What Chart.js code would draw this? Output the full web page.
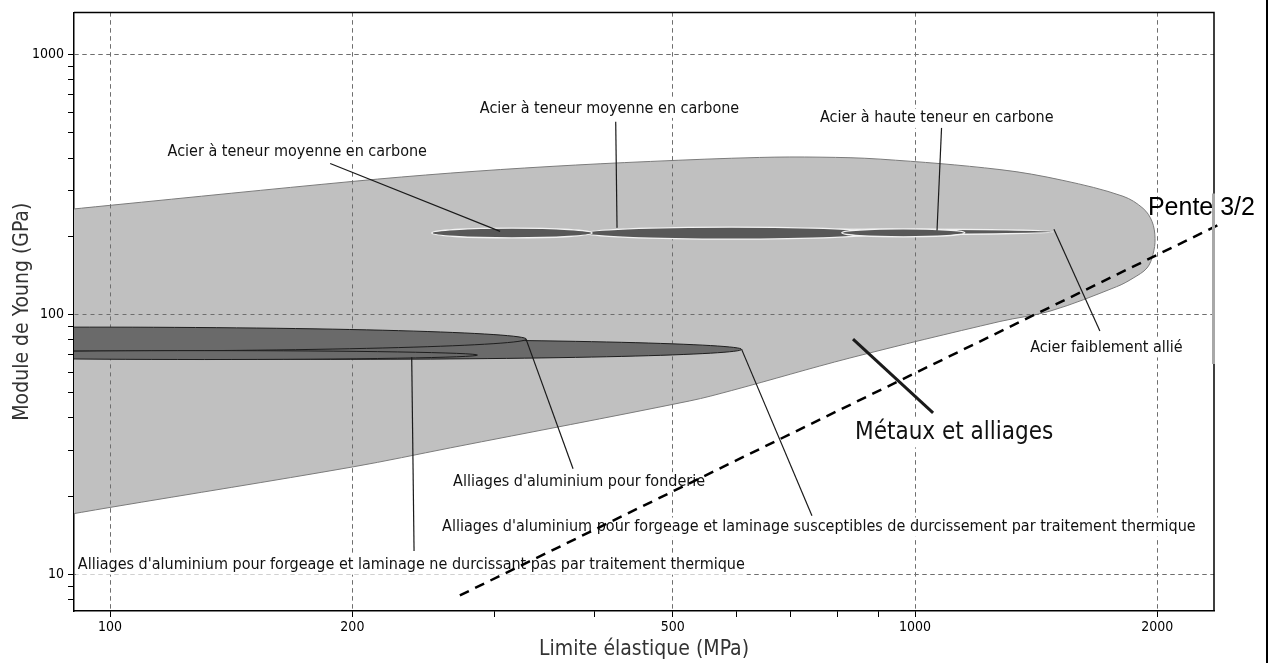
<!DOCTYPE html>
<html lang="fr">
<head>
<meta charset="utf-8">
<title>Module de Young / Limite élastique</title>
<script src="https://cdn.jsdelivr.net/npm/chart.js@4.4.1/dist/chart.umd.min.js"></script>
<style>
  html, body { margin: 0; padding: 0; background: #fff; }
</style>
</head>
<body>
<canvas id="ashby" width="1274" height="663"></canvas>
<script>
// axes (MPa / GPa)
const xMin = 90.2, xMax = 2352;
const yMin = 7.23, yMax = 1453;
const xTickValues = [100, 200, 300, 400, 500, 600, 700, 800, 900, 1000, 2000];
const xTickLabels = [100, 200, 500, 1000, 2000];
const yTickValues = [8, 9, 10, 20, 30, 40, 50, 60, 70, 80, 90, 100, 200, 300, 400, 500, 600, 700, 800, 900, 1000];
const yTickLabels = [10, 100, 1000];

// envelope "Métaux et alliages" (outline, clockwise; corners doubled so the curve stays straight there)
const envelopeX = [85, 85, 100, 200, 265, 352, 469, 641, 762, 905, 1275, 1527, 1813, 1920, 1970, 1987, 1975, 1942, 1866, 1781, 1471, 1275, 830, 592, 525, 265, 200, 100, 85, 85];
const envelopeY = [250, 250, 263, 325, 350, 371, 388, 402, 403, 396, 361, 328, 285, 256, 228, 196, 170, 151, 138, 128, 103, 94, 68, 51, 46.5, 30.7, 25.9, 18.1, 16.6, 16.6];

// steel bubbles (drawing order)
const steelNames = ['Acier faiblement allié', 'Acier à teneur moyenne en carbone', 'Acier à haute teneur en carbone', 'Acier à teneur moyenne en carbone'];
const steelYieldLo = [600, 389, 811, 251];
const steelYieldHi = [1484, 899, 1153, 397];
const steelModLo = [203, 195, 199, 197];
const steelModHi = [213, 217, 213.5, 215];

// aluminium bubbles (drawing order)
const aluNames = ['Alliages d\'aluminium pour forgeage et laminage susceptibles de durcissement par traitement thermique', 'Alliages d\'aluminium pour fonderie', 'Alliages d\'aluminium pour forgeage et laminage ne durcissant pas par traitement thermique'];
const aluYieldLo = [58, 27, 60];
const aluYieldHi = [609, 329, 286];
const aluModLo = [67.2, 72.3, 67.1];
const aluModHi = [80.2, 89.4, 72.6];

// slope 3/2 guide line
const slopeX = [272, 2410];
const slopeY = [8.3, 225];

// callouts, in data units
const labelTexts = [
  'Acier à teneur moyenne en carbone',
  'Acier à teneur moyenne en carbone',
  'Acier à haute teneur en carbone',
  'Acier faiblement allié',
  'Alliages d\'aluminium pour fonderie',
  'Alliages d\'aluminium pour forgeage et laminage susceptibles de durcissement par traitement thermique',
  'Alliages d\'aluminium pour forgeage et laminage ne durcissant pas par traitement thermique'
];
const labelAtX = [117.9, 288, 762, 1390, 266.8, 258.5, 91.2];
const labelAtY = [423.6, 621, 568.5, 74.4, 22.7, 15.2, 10.86];
const leaderFromX = [187.7, 424.8, 1079, 1697, 376, 744.7, 238.6];
const leaderFromY = [381, 552, 528, 86.3, 25.5, 16.8, 12.3];
const leaderToX = [305.2, 426.4, 1065, 1488, 328.7, 609, 237];
const leaderToY = [208.8, 215.4, 210.6, 212.6, 80.4, 73.4, 68.5];

const familyText = 'Métaux et alliages';
const familyAt = [842.4, 35.0];
const familyLeader = [1053, 41.8, 837.5, 80.4];

const slopeText = 'Pente 3/2';
const slopeAt = [1947, 255.9];

// stretch of the right frame that shows grey in the source picture (GPa)
const frameGreyFrom = 292;
const frameGreyTo = 64.5;

const FONT = "'DejaVu Sans Condensed', 'DejaVu Sans', sans-serif";

function drawBubbles(chart, lo, hi, mlo, mhi, fill, stroke, lw) {
  const { ctx, scales: { x, y } } = chart;
  for (let i = 0; i < lo.length; i++) {
    const l = x.getPixelForValue(lo[i]), r = x.getPixelForValue(hi[i]);
    const t = y.getPixelForValue(mhi[i]), b = y.getPixelForValue(mlo[i]);
    ctx.beginPath();
    ctx.ellipse((l + r) / 2, (t + b) / 2, (r - l) / 2, (b - t) / 2, 0, 0, Math.PI * 2);
    ctx.fillStyle = fill;
    ctx.fill();
    ctx.lineWidth = lw;
    ctx.strokeStyle = stroke;
    ctx.stroke();
  }
}

function segment(chart, x1, y1, x2, y2, width) {
  const { ctx, scales: { x, y } } = chart;
  ctx.beginPath();
  ctx.moveTo(x.getPixelForValue(x1), y.getPixelForValue(y1));
  ctx.lineTo(x.getPixelForValue(x2), y.getPixelForValue(y2));
  ctx.lineWidth = width;
  ctx.strokeStyle = '#1a1a1a';
  ctx.stroke();
}

function boxedText(chart, text, vx, vy, size) {
  const { ctx, scales: { x, y } } = chart;
  const px = x.getPixelForValue(vx), py = y.getPixelForValue(vy);
  ctx.font = size + 'px ' + FONT;
  ctx.textAlign = 'left';
  ctx.textBaseline = 'middle';
  const w = ctx.measureText(text).width;
  ctx.fillStyle = '#fff';
  ctx.fillRect(px - 2, py - size * 0.6, w + 4, size * 1.2);
  ctx.fillStyle = '#111';
  ctx.fillText(text, px, py);
}

const annotate = {
  id: 'annotate',
  afterDatasetDraw(chart, args) {
    if (args.index !== 0) return;
    const { ctx, chartArea: area, scales: { x, y } } = chart;
    // grid stays visible on the envelope, bubbles cover it
    x.drawGrid(area);
    y.drawGrid(area);

    ctx.save();
    ctx.beginPath();
    ctx.rect(area.left, area.top, area.right - area.left, area.bottom - area.top);
    ctx.clip();
    drawBubbles(chart, aluYieldLo, aluYieldHi, aluModLo, aluModHi, '#6a6a6a', '#1e1e1e', 1);
    drawBubbles(chart, steelYieldLo, steelYieldHi, steelModLo, steelModHi, '#585858', '#f2f2f2', 1.3);
    ctx.restore();

    ctx.save();
    for (let i = 0; i < labelTexts.length; i++) {
      segment(chart, leaderFromX[i], leaderFromY[i], leaderToX[i], leaderToY[i], 1.2);
    }
    segment(chart, familyLeader[0], familyLeader[1], familyLeader[2], familyLeader[3], 3);
    for (let i = 0; i < labelTexts.length; i++) {
      boxedText(chart, labelTexts[i], labelAtX[i], labelAtY[i], 16);
    }
    boxedText(chart, familyText, familyAt[0], familyAt[1], 24);

    ctx.font = '25px "Liberation Sans", Arial, sans-serif';
    ctx.textAlign = 'left';
    ctx.textBaseline = 'middle';
    ctx.fillStyle = '#000';
    ctx.fillText(slopeText, x.getPixelForValue(slopeAt[0]), y.getPixelForValue(slopeAt[1]));
    ctx.restore();
  },
  afterDraw(chart) {
    const { ctx, chartArea: a, scales: { y } } = chart;
    ctx.save();
    ctx.strokeStyle = '#000';
    ctx.lineWidth = 1.5;
    ctx.beginPath();
    ctx.moveTo(a.left, a.top);
    ctx.lineTo(a.right, a.top);
    ctx.lineTo(a.right, a.bottom);
    ctx.stroke();
    ctx.strokeStyle = '#a8a8a8';
    ctx.lineWidth = 3;
    ctx.beginPath();
    ctx.moveTo(a.right - 0.5, y.getPixelForValue(frameGreyFrom));
    ctx.lineTo(a.right - 0.5, y.getPixelForValue(frameGreyTo));
    ctx.stroke();
    ctx.fillStyle = '#000';
    ctx.fillRect(chart.width - 8, 0, 2, chart.height);
    ctx.restore();
  }
};

const tickFont = { family: FONT, size: 14 };
const titleFont = { family: FONT, size: 21 };

new Chart(document.getElementById('ashby'), {
  type: 'line',
  data: {
    datasets: [
      {
        label: 'Métaux et alliages',
        data: envelopeX.map((v, i) => ({ x: v, y: envelopeY[i] })),
        fill: 'shape',
        backgroundColor: '#c0c0c0',
        borderColor: '#7c7c7c',
        borderWidth: 1,
        tension: 0.35,
        pointRadius: 0,
        order: 1
      },
      {
        label: 'Pente 3/2',
        data: slopeX.map((v, i) => ({ x: v, y: slopeY[i] })),
        fill: false,
        borderColor: '#000',
        borderWidth: 2.5,
        borderDash: [10, 7],
        pointRadius: 0,
        clip: false,
        order: 0
      }
    ]
  },
  options: {
    responsive: false,
    devicePixelRatio: 1,
    animation: false,
    layout: { padding: { left: 0, top: 11, right: 60, bottom: 0 } },
    elements: { line: { capBezierPoints: false } },
    plugins: { legend: { display: false }, tooltip: { enabled: false } },
    scales: {
      x: {
        type: 'logarithmic',
        min: xMin,
        max: xMax,
        afterBuildTicks: (s) => { s.ticks = xTickValues.map((v) => ({ value: v })); },
        afterFit: (s) => { s.height = 52; },
        ticks: {
          autoSkip: false, maxRotation: 0, padding: 2, color: '#000', font: tickFont,
          callback: (v) => (xTickLabels.includes(v) ? String(v) : '')
        },
        grid: {
          color: (c) => (c.tick && xTickLabels.includes(c.tick.value) ? '#6e6e6e' : 'rgba(0,0,0,0)'),
          tickColor: '#000', tickLength: 6, tickBorderDash: [], lineWidth: 1
        },
        border: { color: '#000', width: 1.5, dash: [4, 4] },
        title: { display: true, text: 'Limite élastique (MPa)', color: '#333', font: titleFont, padding: { top: 0, bottom: 1 } }
      },
      y: {
        type: 'logarithmic',
        min: yMin,
        max: yMax,
        afterBuildTicks: (s) => { s.ticks = yTickValues.map((v) => ({ value: v })); },
        afterFit: (s) => { s.width = 74; },
        ticks: {
          autoSkip: false, padding: 4, color: '#000', font: tickFont,
          callback: (v) => (yTickLabels.includes(v) ? String(v) : '')
        },
        grid: {
          color: (c) => (c.tick && yTickLabels.includes(c.tick.value) ? '#6e6e6e' : 'rgba(0,0,0,0)'),
          tickColor: '#000', tickLength: 6, tickBorderDash: [], lineWidth: 1
        },
        border: { color: '#000', width: 1.5, dash: [4, 4] },
        title: { display: true, text: 'Module de Young (GPa)', color: '#333', font: titleFont, padding: { top: 10, bottom: 0 } }
      }
    }
  },
  plugins: [annotate]
});
</script>
</body>
</html>
